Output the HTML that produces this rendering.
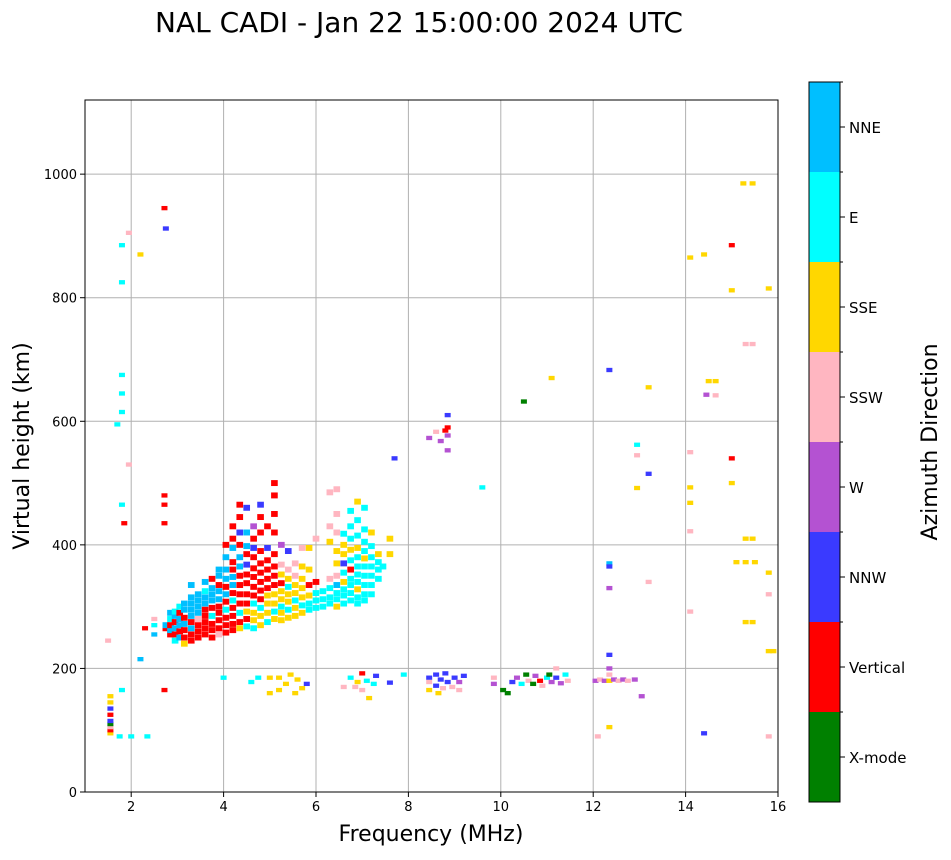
<!DOCTYPE html>
<html><head><meta charset="utf-8"><style>
body{margin:0;background:#fff;font-family:"DejaVu Sans","Liberation Sans",sans-serif}
</style></head><body>
<svg id="chart" width="951" height="856" xmlns="http://www.w3.org/2000/svg" font-family="DejaVu Sans, Liberation Sans, sans-serif">
<text x="419" y="32" font-size="28" text-anchor="middle">NAL CADI - Jan 22 15:00:00 2024 UTC</text>
<g id="grid"></g><g id="cells"></g><g id="axes"></g><g id="cbar"></g>
<text x="431" y="841" font-size="22" text-anchor="middle">Frequency (MHz)</text>
<text transform="translate(29,446) rotate(-90)" font-size="22" text-anchor="middle">Virtual height (km)</text>
<text transform="translate(937,442) rotate(-90)" font-size="22" text-anchor="middle">Azimuth Direction</text>
</svg>
<script>
const directions=["X-mode","Vertical","NNW","W","SSW","SSE","E","NNE"];
const dirColors=["#008000","#ff0000","#3a3aff","#b452d2","#ffb6c1","#ffd700","#00ffff","#00bfff"];
const xTicks=[2,4,6,8,10,12,14,16];
const yTicks=[0,200,400,600,800,1000];
// cells: "freq height dirIndex"
const sparse="1.55 95 5,1.55 100 1,1.55 105 4,1.55 110 0,1.55 115 2,1.55 125 1,1.55 135 2,1.55 145 5,1.55 155 5,1.5 245 4,1.7 595 6,1.8 825 6,1.8 885 6,1.8 675 6,1.8 645 6,1.8 615 6,1.8 465 6,1.8 165 6,1.75 90 6,1.95 905 4,1.95 530 4,1.85 435 1,2.0 90 6,2.2 870 5,2.2 215 7,2.35 90 6,2.72 945 1,2.72 480 1,2.72 465 1,2.72 435 1,2.72 165 1,2.75 912 2,2.5 255 7,2.5 270 6,2.5 280 4,2.3 265 1,4.0 185 6,4.6 178 6,4.75 185 6,5.0 160 5,5.0 185 5,5.2 165 5,5.2 185 5,5.35 175 5,5.45 190 5,5.55 160 5,5.6 182 5,5.7 168 5,5.8 175 2,6.6 170 4,6.75 185 6,6.85 170 4,6.9 178 5,7.0 165 4,7.0 192 1,7.1 180 6,7.15 152 5,7.25 175 6,7.3 188 2,7.6 177 2,7.7 540 2,7.9 190 6,8.45 185 2,8.45 165 5,8.45 178 4,8.6 172 2,8.6 190 2,8.65 160 5,8.7 182 2,8.75 168 4,8.8 192 2,8.85 178 2,8.95 170 4,9.0 185 2,9.1 165 4,9.1 178 3,9.2 188 2,8.45 573 3,8.6 583 4,8.7 568 3,8.8 585 1,8.85 610 2,8.85 590 1,8.85 577 3,8.85 553 3,9.6 493 6,9.85 175 3,9.85 185 4,10.05 165 0,10.15 160 0,10.25 178 2,10.35 185 3,10.45 175 6,10.55 190 0,10.6 180 4,10.7 175 0,10.75 188 3,10.85 180 1,10.9 172 4,11.0 185 6,11.05 190 0,11.1 178 3,11.2 200 4,11.2 185 2,11.3 176 3,11.4 190 6,11.45 180 4,10.5 632 0,11.1 670 5,12.05 180 3,12.15 182 4,12.25 180 3,12.35 180 5,12.45 182 3,12.55 180 4,12.65 182 3,12.75 180 4,12.9 182 3,12.35 683 2,12.35 370 7,12.35 365 2,12.35 330 3,12.35 222 2,12.35 200 3,12.35 190 4,12.35 105 5,12.1 90 4,12.95 562 6,12.95 545 4,12.95 492 5,13.05 155 3,13.2 655 5,13.2 515 2,13.2 340 4,14.1 865 5,14.1 550 4,14.1 493 5,14.1 468 5,14.1 422 4,14.1 292 4,14.4 870 5,14.5 665 5,14.65 665 5,14.45 643 3,14.65 642 4,14.4 95 2,15.0 885 1,15.0 812 5,15.0 540 1,15.0 500 5,15.25 985 5,15.45 985 5,15.3 725 4,15.45 725 4,15.3 410 5,15.45 410 5,15.1 372 5,15.3 372 5,15.5 372 5,15.3 275 5,15.45 275 5,15.8 815 5,15.8 355 5,15.8 320 4,15.8 228 5,15.9 228 5,15.8 90 4";
const dense="2.75 265 1,2.75 270 7,2.85 255 1,2.85 262 7,2.85 270 1,2.85 280 6,2.85 290 7,2.95 245 6,2.95 255 1,2.95 265 7,2.95 275 1,2.95 285 7,2.95 292 6,3.05 250 7,3.05 260 1,3.05 270 7,3.05 280 7,3.05 290 1,3.05 300 6,3.15 240 5,3.15 250 1,3.15 262 1,3.15 272 7,3.15 282 1,3.15 295 7,3.15 305 7,3.3 245 1,3.3 255 1,3.3 265 7,3.3 275 1,3.3 285 7,3.3 295 7,3.3 305 7,3.3 315 7,3.3 335 7,3.45 250 1,3.45 260 1,3.45 270 1,3.45 280 4,3.45 290 7,3.45 300 7,3.45 310 7,3.45 320 7,3.6 255 1,3.6 265 1,3.6 275 1,3.6 285 1,3.6 295 1,3.6 305 7,3.6 315 7,3.6 325 6,3.6 340 7,3.75 250 1,3.75 262 1,3.75 272 1,3.75 285 6,3.75 298 1,3.75 310 7,3.75 320 7,3.75 330 7,3.75 345 1,3.9 255 4,3.9 265 1,3.9 278 1,3.9 290 1,3.9 300 1,3.9 312 7,3.9 325 7,3.9 335 1,3.9 350 7,3.9 360 7,4.05 258 1,4.05 270 1,4.05 282 1,4.05 295 6,4.05 308 1,4.05 320 7,4.05 332 1,4.05 345 7,4.05 360 7,4.05 380 7,4.05 400 1,4.2 262 1,4.2 272 1,4.2 285 1,4.2 298 1,4.2 310 6,4.2 322 1,4.2 335 7,4.2 348 7,4.2 360 1,4.2 372 1,4.2 395 7,4.2 410 1,4.2 430 1,4.35 265 5,4.35 275 1,4.35 290 6,4.35 305 1,4.35 320 1,4.35 335 1,4.35 350 1,4.35 365 7,4.35 380 7,4.35 400 1,4.35 420 2,4.35 445 1,4.35 465 1,4.5 268 6,4.5 280 1,4.5 292 5,4.5 305 1,4.5 320 1,4.5 338 1,4.5 352 1,4.5 368 2,4.5 385 1,4.5 398 7,4.5 420 7,4.5 460 2,4.65 265 6,4.65 278 5,4.65 290 5,4.65 305 6,4.65 318 1,4.65 332 1,4.65 348 1,4.65 362 1,4.65 380 1,4.65 395 2,4.65 410 1,4.65 430 3,4.8 270 5,4.8 285 5,4.8 298 6,4.8 312 1,4.8 326 1,4.8 340 1,4.8 355 1,4.8 370 1,4.8 390 1,4.8 420 1,4.8 445 1,4.8 465 2,4.95 275 6,4.95 290 5,4.95 305 5,4.95 318 5,4.95 330 1,4.95 345 1,4.95 360 1,4.95 375 1,4.95 395 2,4.95 430 1,5.1 280 5,5.1 292 6,5.1 305 5,5.1 320 5,5.1 335 1,5.1 350 1,5.1 365 1,5.1 385 1,5.1 420 1,5.1 450 1,5.1 480 1,5.1 500 1,5.25 278 5,5.25 290 5,5.25 300 6,5.25 312 5,5.25 325 5,5.25 338 1,5.25 352 5,5.25 368 4,5.25 400 3,5.4 282 5,5.4 295 6,5.4 308 5,5.4 320 5,5.4 332 6,5.4 345 5,5.4 360 4,5.4 390 2,5.55 285 5,5.55 298 5,5.55 310 6,5.55 322 5,5.55 335 5,5.55 350 4,5.55 370 4,5.7 290 5,5.7 302 6,5.7 315 5,5.7 330 5,5.7 345 5,5.7 365 5,5.7 395 4,5.85 295 6,5.85 305 6,5.85 318 5,5.85 335 1,5.85 360 5,5.85 395 5,6.0 298 6,6.0 310 6,6.0 322 6,6.0 340 1,6.0 410 4,6.15 300 6,6.15 312 6,6.15 325 6,6.3 305 6,6.3 315 6,6.3 330 6,6.3 345 4,6.3 405 5,6.3 430 4,6.3 485 4,6.45 300 5,6.45 312 6,6.45 322 6,6.45 335 7,6.45 350 4,6.45 370 5,6.45 390 5,6.45 420 4,6.45 450 4,6.45 490 4,6.6 305 6,6.6 318 6,6.6 328 6,6.6 340 5,6.6 355 6,6.6 370 2,6.6 385 5,6.6 400 5,6.6 418 6,6.75 310 6,6.75 322 6,6.75 335 6,6.75 345 6,6.75 360 1,6.75 375 6,6.75 392 5,6.75 410 6,6.75 430 6,6.75 455 6,6.9 305 6,6.9 315 6,6.9 328 5,6.9 340 6,6.9 352 6,6.9 365 6,6.9 380 6,6.9 395 5,6.9 415 6,6.9 440 6,6.9 470 5,7.05 310 6,7.05 320 6,7.05 335 6,7.05 350 6,7.05 365 6,7.05 378 5,7.05 390 6,7.05 405 6,7.05 425 6,7.05 460 6,7.2 320 6,7.2 335 6,7.2 350 6,7.2 365 6,7.2 380 6,7.2 398 6,7.2 420 5,7.35 345 6,7.35 360 6,7.35 372 6,7.35 385 5,7.6 385 5,7.6 410 5,7.45 365 6";
const cellFreq=[],cellHeight=[],cellDir=[],cellDense=[];
sparse.split(",").forEach(s=>{const p=s.trim().split(" ");cellFreq.push(+p[0]);cellHeight.push(+p[1]);cellDir.push(+p[2]);cellDense.push(0);});
dense.split(",").forEach(s=>{const p=s.trim().split(" ");cellFreq.push(+p[0]);cellHeight.push(+p[1]);cellDir.push(+p[2]);cellDense.push(1);});

const L=85,R=778,T=100,B=792,fMin=1,fMax=16,hMin=0,hMax=1120;
const xs=f=>L+(f-fMin)/(fMax-fMin)*(R-L);
const ys=h=>B-(h-hMin)/(hMax-hMin)*(B-T);
const NS="http://www.w3.org/2000/svg";
function mk(tag,parent,attrs){const e=document.createElementNS(NS,tag);for(const k in attrs)e.setAttribute(k,attrs[k]);parent.appendChild(e);return e;}
const grid=document.getElementById("grid"),cells=document.getElementById("cells"),axes=document.getElementById("axes"),cbar=document.getElementById("cbar");
xTicks.forEach(t=>{const l=mk("line",grid,{x1:xs(t),x2:xs(t),y1:T,y2:B,stroke:"#b0b0b0","stroke-width":1});

});
yTicks.forEach(t=>{const l=mk("line",grid,{x1:L,x2:R,y1:ys(t),y2:ys(t),stroke:"#b0b0b0","stroke-width":1});

});
for(let i=0;i<cellFreq.length;i++){
  const hw=cellDense[i]?0.072:0.065, hh=cellDense[i]?4.8:3.5;
  const x0=xs(cellFreq[i]-hw),x1=xs(cellFreq[i]+hw),y0=ys(cellHeight[i]+hh),y1=ys(cellHeight[i]-hh);
  const r=mk("rect",cells,{x:x0,y:y0,width:x1-x0,height:y1-y0,fill:dirColors[cellDir[i]]});
  
  
}
const frame=mk("rect",axes,{x:L,y:T,width:R-L,height:B-T,fill:"none",stroke:"#000","stroke-width":1});


xTicks.forEach(t=>{mk("line",axes,{x1:xs(t),x2:xs(t),y1:B,y2:B+5,stroke:"#000"});
const tx=mk("text",axes,{x:xs(t),y:B+19,"font-size":13,"text-anchor":"middle"});tx.textContent=t;

});
yTicks.forEach(t=>{mk("line",axes,{x1:L-5,x2:L,y1:ys(t),y2:ys(t),stroke:"#000"});
const tx=mk("text",axes,{x:L-8,y:ys(t)+5,"font-size":13,"text-anchor":"end"});tx.textContent=t;

});
const cT=82,cB=802,cL=809,cR=840,seg=(cB-cT)/directions.length;
directions.forEach((d,i)=>{const y0=cB-(i+1)*seg;
const r=mk("rect",cbar,{x:cL,y:y0,width:cR-cL,height:seg,fill:dirColors[i]});


mk("line",cbar,{x1:cR,x2:cR+5,y1:y0+seg/2,y2:y0+seg/2,stroke:"#000"});
mk("line",cbar,{x1:cR,x2:cR+3,y1:y0,y2:y0,stroke:"#000"});
const tx=mk("text",cbar,{x:cR+9,y:y0+seg/2+6,"font-size":15});tx.textContent=d;

});
const cf=mk("rect",cbar,{x:cL,y:cT,width:cR-cL,height:cB-cT,fill:"none",stroke:"#000"});


</script>
</body></html>
